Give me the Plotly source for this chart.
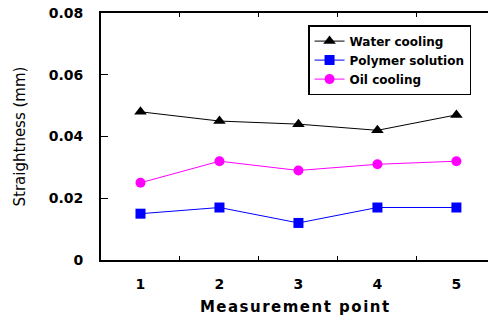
import plotly.graph_objects as go

points = ["1", "2", "3", "4", "5"]
water = [0.048, 0.045, 0.044, 0.042, 0.047]
polymer = [0.015, 0.017, 0.012, 0.017, 0.017]
oil = [0.025, 0.032, 0.029, 0.031, 0.032]
y_ticks = [0, 0.02, 0.04, 0.06, 0.08]
y_labels = ["0", "0.02", "0.04", "0.06", "0.08"]

dv = "DejaVu Sans, sans-serif"
hs = "\u200a"
x_title = "Measurement point"
x_title_spaced = hs.join(x_title)

fig = go.Figure()
fig.add_trace(go.Scatter(x=points, y=water, name="Water cooling", mode="lines+markers",
                         line=dict(color="black", width=1),
                         marker=dict(symbol="triangle-up", size=11, color="black")))
fig.add_trace(go.Scatter(x=points, y=polymer, name="Polymer solution", mode="lines+markers",
                         line=dict(color="blue", width=1),
                         marker=dict(symbol="square", size=10, color="blue")))
fig.add_trace(go.Scatter(x=points, y=oil, name="Oil cooling", mode="lines+markers",
                         line=dict(color="magenta", width=1),
                         marker=dict(symbol="circle", size=10, color="magenta")))

fig.update_layout(
    width=488, height=320,
    margin=dict(l=101, r=0, t=13, b=60, autoexpand=False),
    paper_bgcolor="white", plot_bgcolor="white",
    font=dict(family=dv, color="black"),
    showlegend=True,
    legend=dict(x=0.535, y=0.951, xanchor="left", yanchor="top",
                bordercolor="black", borderwidth=1.5, bgcolor="white",
                font=dict(size=12, family=dv, weight="bold"),
                tracegroupgap=0, itemwidth=30),
    xaxis=dict(type="category", range=[-0.5, 4.4], tickson="boundaries",
               showline=True, linecolor="black", linewidth=2, mirror="all",
               ticks="inside", ticklen=4, tickcolor="black", tickwidth=1,
               showgrid=False, zeroline=False, automargin=False,
               ticklabelstandoff=10,
               tickfont=dict(size=14, family=dv, weight="bold"),
               title=dict(text=x_title_spaced,
                          font=dict(size=15, family=dv, weight="bold"), standoff=11)),
    yaxis=dict(range=[0, 0.08], tickvals=y_ticks, ticktext=y_labels,
               showline=True, linecolor="black", linewidth=2,
               ticks="inside", ticklen=7, tickcolor="black", tickwidth=1,
               showgrid=False, zeroline=False, automargin=False,
               ticklabelstandoff=13, ticklabeloverflow="allow",
               tickfont=dict(size=14, family=dv, weight="bold"),
               title=dict(text="Straightness (mm)", font=dict(size=15, family=dv), standoff=19)),
)

fig.write_html("out.html", config={"displayModeBar": False},
               post_script="document.body.style.margin='0';")
